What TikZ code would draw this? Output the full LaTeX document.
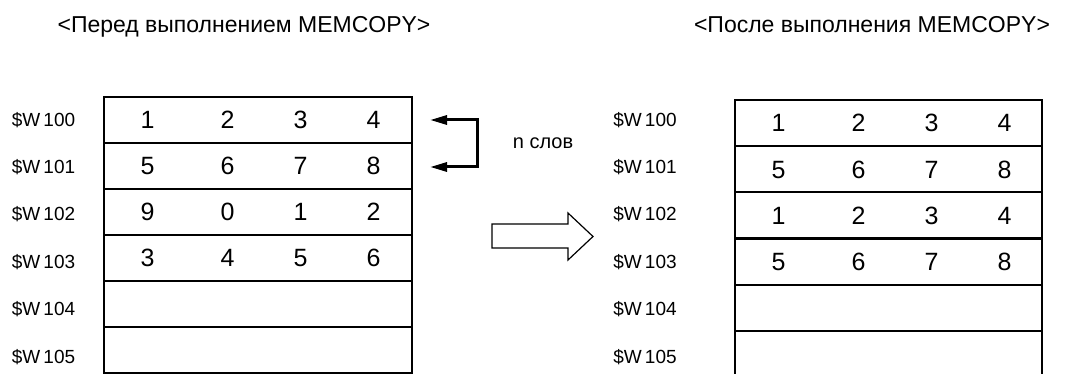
\documentclass[tikz,border=0pt]{standalone}
\usepackage{fontspec}
\setmainfont{Liberation Sans}
\usetikzlibrary{arrows.meta}
\begin{document}
\begin{tikzpicture}[x=1pt,y=-1pt,
  rowL/.style={draw, line width=2.1pt, minimum width=308pt, minimum height=46pt, inner sep=0pt, outer sep=0pt},
  rowR/.style={draw, line width=2.1pt, minimum width=307pt, minimum height=46.2pt, inner sep=0pt, outer sep=0pt},
  digit/.style={font=\fontsize{25pt}{30pt}\selectfont, inner sep=0pt, anchor=base},
  addr/.style={font=\fontsize{19pt}{23pt}\selectfont, inner sep=0pt, anchor=base},
  title/.style={font=\fontsize{23pt}{28pt}\selectfont, inner sep=0pt, anchor=base},
  note/.style={font=\fontsize{20pt}{24pt}\selectfont, inner sep=0pt},
  brk/.style={line width=3pt, {Triangle[length=17pt,width=9pt]}-{Triangle[length=17pt,width=9pt]}},
  bigarrow/.style={draw, line width=1.2pt, line join=miter}]
\useasboundingbox (0,0) rectangle (1069,374);
\fill[white] (0,0) rectangle (1069,374);

% titles
\node[title] (tL) at (244,33) {<Перед выполнением MEMCOPY>};
\node[title] (tR) at (872,33) {<После выполнения MEMCOPY>};

% table rows
\foreach \i in {0,...,5} {
  \node[rowL] (L\i) at (258,{120+46*\i}) {};
  \node[rowR] (R\i) at (888.5,{123+46.2*\i}) {};
}

% address labels
\foreach \i/\yy in {0/120,1/166.5,2/213.5,3/261.5,4/309,5/357} {
  \node[addr] (aL\i) at (43.5,\yy+6.8) {\$W\,10\i};
  \node[addr] (aR\i) at (645,\yy+6.8) {\$W\,10\i};
}

% left table contents
\foreach \r/\a/\b/\c/\d in {0/1/2/3/4,1/5/6/7/8,2/9/0/1/2,3/3/4/5/6} {
  \node[digit] (L\r a) at (147.5,{120+46*\r+9}) {\a};
  \node[digit] (L\r b) at (227.5,{120+46*\r+9}) {\b};
  \node[digit] (L\r c) at (300.5,{120+46*\r+9}) {\c};
  \node[digit] (L\r d) at (373.5,{120+46*\r+9}) {\d};
}

% right table contents
\foreach \r/\a/\b/\c/\d in {0/1/2/3/4,1/5/6/7/8,2/1/2/3/4,3/5/6/7/8} {
  \node[digit] (R\r a) at (778.5,{123+46.2*\r+9}) {\a};
  \node[digit] (R\r b) at (858.5,{123+46.2*\r+9}) {\b};
  \node[digit] (R\r c) at (931.5,{123+46.2*\r+9}) {\c};
  \node[digit] (R\r d) at (1004.5,{123+46.2*\r+9}) {\d};
}

% bracket arrow
\coordinate (b1) at (430,120);
\coordinate (b2) at (430,167);
\draw[brk] (b1) -- ++(47,0) |- (b2);
\node[note] (nw) at (543,143) {n слов};

% big hollow arrow
\draw[bigarrow] (492,224) -- (568,224) -- (568,213) -- (593,236.5) -- (568,260) -- (568,248) -- (492,248) -- cycle;
\end{tikzpicture}
\end{document}
